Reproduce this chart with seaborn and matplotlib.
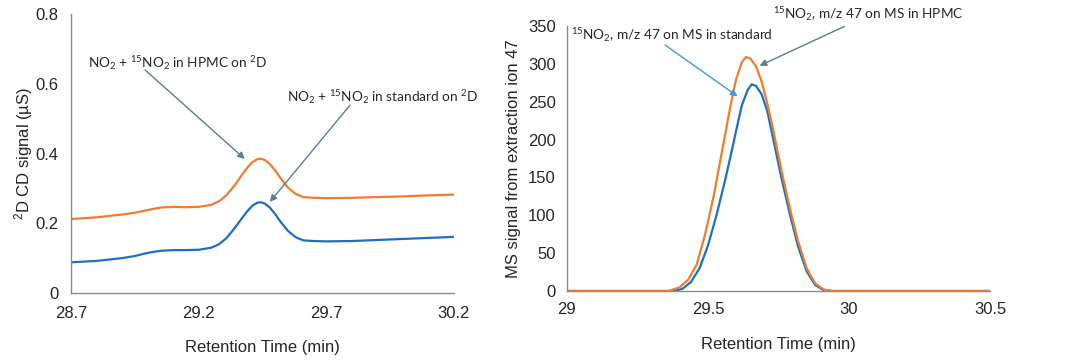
import matplotlib
matplotlib.use("Agg")
import matplotlib.pyplot as plt
import seaborn as sns
import pandas as pd

# left panel: 2D CD signal (uS)
cd_time = [28.70, 28.80, 28.90, 28.95, 29.00, 29.05, 29.10, 29.15, 29.20, 29.25,
           29.28, 29.31, 29.34, 29.37, 29.39, 29.41, 29.43, 29.445, 29.46, 29.48,
           29.50, 29.52, 29.55, 29.58, 29.61, 29.65, 29.70, 29.80, 29.90, 30.00,
           30.10, 30.20]
cd_standard = [0.088, 0.092, 0.100, 0.106, 0.115, 0.121, 0.123, 0.123, 0.124, 0.130,
               0.140, 0.158, 0.185, 0.215, 0.234, 0.250, 0.259, 0.260, 0.256, 0.244,
               0.226, 0.205, 0.178, 0.160, 0.151, 0.149, 0.148, 0.149, 0.152, 0.155,
               0.158, 0.161]
cd_hpmc = [0.212, 0.217, 0.225, 0.230, 0.238, 0.245, 0.247, 0.246, 0.247, 0.253,
           0.263, 0.281, 0.308, 0.339, 0.359, 0.375, 0.384, 0.385, 0.381, 0.369,
           0.351, 0.330, 0.302, 0.284, 0.275, 0.273, 0.272, 0.273, 0.275, 0.277,
           0.280, 0.282]
cd_xticks = [28.7, 29.2, 29.7, 30.2]
cd_yticks = [0, 0.2, 0.4, 0.6, 0.8]
cd_yticklabels = ["0", "0.2", "0.4", "0.6", "0.8"]

# right panel: MS signal, m/z 47
ms_time_std = [29.00, 29.38, 29.41, 29.44, 29.47, 29.50, 29.53, 29.56, 29.58, 29.60,
               29.62, 29.64, 29.655, 29.67, 29.69, 29.71, 29.73, 29.76, 29.79, 29.82,
               29.85, 29.88, 29.91, 29.94, 30.50]
ms_standard = [0, 0, 3, 12, 30, 60, 100, 145, 178, 212,
               245, 265, 273, 271, 260, 238, 203, 150, 102, 58,
               26, 8, 1, 0, 0]
ms_time_hpmc = [29.00, 29.36, 29.40, 29.43, 29.46, 29.49, 29.52, 29.55, 29.58, 29.60,
                29.62, 29.635, 29.65, 29.67, 29.69, 29.71, 29.73, 29.76, 29.79, 29.82,
                29.85, 29.88, 29.91, 29.94, 30.50]
ms_hpmc = [0, 0, 5, 15, 35, 75, 125, 185, 245, 280,
           302, 309, 307, 297, 277, 248, 215, 160, 110, 65,
           30, 10, 2, 0, 0]
ms_xticks = [29, 29.5, 30, 30.5]
ms_xticklabels = ["29", "29.5", "30", "30.5"]
ms_yticks = [0, 50, 100, 150, 200, 250, 300, 350]

BLUE = "#1F6FC1"
ORANGE = "#F07D2F"
SPINE = "#8C8C8C"
TXT = "#262626"

sns.set_style("white")
plt.rcParams["font.family"] = ["Liberation Sans", "DejaVu Sans"]
plt.rcParams["mathtext.fontset"] = "custom"
plt.rcParams["mathtext.rm"] = "Lato"
plt.rcParams["mathtext.default"] = "regular"

fig = plt.figure(figsize=(10.74, 3.6), dpi=100)
ax1 = fig.add_axes([0.0661, 0.1861, 0.3566, 0.775])
ax2 = fig.add_axes([0.5279, 0.1917, 0.3939, 0.7361])

cd = pd.DataFrame({"t": cd_time, "std": cd_standard, "hpmc": cd_hpmc})
sns.lineplot(data=cd, x="t", y="std", color=BLUE, lw=1.6, ax=ax1)
sns.lineplot(data=cd, x="t", y="hpmc", color=ORANGE, lw=1.6, ax=ax1)

ms_std = pd.DataFrame({"t": ms_time_std, "v": ms_standard})
ms_hp = pd.DataFrame({"t": ms_time_hpmc, "v": ms_hpmc})
sns.lineplot(data=ms_std, x="t", y="v", color=BLUE, lw=1.6, ax=ax2)
sns.lineplot(data=ms_hp, x="t", y="v", color=ORANGE, lw=1.6, ax=ax2)

# left axes styling
ax1.set_xlim(28.7, 30.2)
ax1.set_ylim(0, 0.8)
ax1.set_xticks(cd_xticks)
ax1.set_xticklabels([str(x) for x in cd_xticks])
ax1.set_yticks(cd_yticks)
ax1.set_yticklabels(cd_yticklabels)
ax1.tick_params(axis="both", direction="out", length=4, width=0.8, color=SPINE,
                labelsize=12, labelcolor=TXT, pad=5)
ax1.set_xlabel("Retention Time (min)", fontsize=12, color=TXT, labelpad=14)
ax1.set_ylabel("$^{2}$D CD signal (µS)", fontsize=12, color=TXT, labelpad=0)

# right axes styling
ax2.set_xlim(29, 30.5)
ax2.set_ylim(0, 350)
ax2.set_xticks(ms_xticks)
ax2.set_xticklabels(ms_xticklabels)
ax2.set_yticks(ms_yticks)
ax2.tick_params(axis="both", length=0, labelsize=12, labelcolor=TXT, pad=8)
ax2.set_xlabel("Retention Time (min)", fontsize=12, color=TXT, labelpad=14)
ax2.set_ylabel("MS signal from extraction ion 47", fontsize=12, color=TXT, labelpad=5)

for ax in (ax1, ax2):
    for side in ("top", "right"):
        ax.spines[side].set_visible(False)
    for side in ("left", "bottom"):
        ax.spines[side].set_color(SPINE)
        ax.spines[side].set_linewidth(1.0)
    ax.set_facecolor("none")

ann_font = dict(family=["Lato", "DejaVu Sans"], fontsize=9.8, color=TXT)

# left annotations
ax1.annotate("", xy=(29.389, 0.379), xytext=(28.982, 0.645),
             arrowprops=dict(arrowstyle="-|>", color="#5E7E8C", lw=1, mutation_scale=10))
ax1.text(28.767, 0.659, "NO$_2$ + $^{15}$NO$_2$ in HPMC on $^{2}$D", ha="left", va="center", **ann_font)
ax1.annotate("", xy=(29.472, 0.255), xytext=(29.80, 0.545),
             arrowprops=dict(arrowstyle="-|>", color="#5E7E8C", lw=1, mutation_scale=10))
ax1.text(29.546, 0.562, "NO$_2$ + $^{15}$NO$_2$ in standard on $^{2}$D", ha="left", va="center",
         clip_on=False, **ann_font)

# right annotations
ax2.annotate("", xy=(29.613, 255), xytext=(29.34, 327),
             arrowprops=dict(arrowstyle="-|>", color="#4A97D6", lw=1, mutation_scale=10))
ax2.text(29.014, 338, "$^{15}$NO$_2$, m/z 47 on MS in standard", ha="left", va="center", **ann_font)
ax2.annotate("", xy=(29.674, 296), xytext=(29.993, 351),
             arrowprops=dict(arrowstyle="-|>", color="#5E7E8C", lw=1, mutation_scale=10),
             annotation_clip=False)
ax2.text(29.73, 366, "$^{15}$NO$_2$, m/z 47 on MS in HPMC", ha="left", va="center",
         clip_on=False, **ann_font)

fig.savefig("out.png", dpi=100)
